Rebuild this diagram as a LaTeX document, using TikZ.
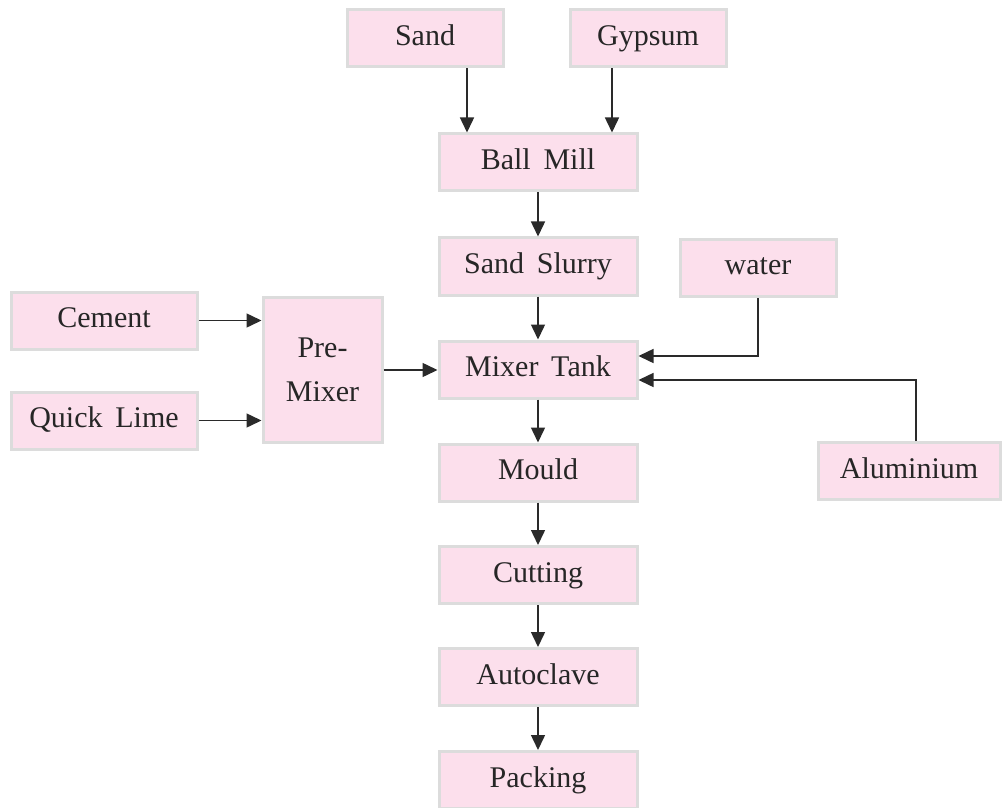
\documentclass[tikz,border=0pt]{standalone}
\usepackage{fontspec}
\setmainfont{Liberation Serif}[WordSpace=1.7]
\usepackage{tikz}
\usetikzlibrary{arrows.meta}
\definecolor{boxpink}{HTML}{FCDFEC}
\definecolor{boxline}{HTML}{DCDCDC}
\definecolor{arrline}{HTML}{2A2A2A}
\tikzset{
    stage/.style={draw=boxline, line width=1.5pt, fill=boxpink, text=black!85, minimum height=28.5pt, text height=10.5pt, text depth=3.5pt, inner sep=2pt}, % process box
    arr/.style={draw=arrline, line width=0.75pt, -{Triangle[length=7.5pt, width=7pt]}} % connector
}

\begin{document}
\begin{tikzpicture}[x=0.5pt, y=-0.5pt, font=\fontsize{15}{18}\selectfont]
            \useasboundingbox (0,0) rectangle (1004,807);

            \node[stage, minimum width=78pt] (sand) at (425,38.5) {Sand};
            \node[stage, minimum width=78pt] (gypsum) at (648,38.5) {Gypsum};
            \node[stage, minimum width=99pt] (ballmill) at (538,162.5) {Ball Mill};
            \node[stage, minimum width=99pt] (slurry) at (538,266.5) {Sand Slurry};
            \node[stage, minimum width=78pt] (water) at (758,268) {water};
            \node[stage, minimum width=93pt] (cement) at (104,320.5) {Cement};
            \node[stage, minimum width=93pt] (lime) at (104,420.5) {Quick Lime};
            \node[stage, minimum width=59.5pt, minimum height=72.5pt, text height=, text depth=, align=center] (premixer) at (322.5,370) {Pre-\\[4pt]Mixer};
            \node[stage, minimum width=99pt] (mixer) at (538,369.5) {Mixer Tank};
            \node[stage, minimum width=91pt] (aluminium) at (909,471) {Aluminium};
            \node[stage, minimum width=99pt] (mould) at (538,472.5) {Mould};
            \node[stage, minimum width=99pt] (cutting) at (538,575) {Cutting};
            \node[stage, minimum width=99pt] (autoclave) at (538,677) {Autoclave};
            \node[stage, minimum width=99pt] (packing) at (538,780) {Packing};

            \draw[arr] ([xshift=21pt]sand.south) -- ([xshift=21pt]sand.south |- ballmill.north);
            \draw[arr] ([xshift=-18pt]gypsum.south) -- ([xshift=-18pt]gypsum.south |- ballmill.north);
            \foreach \a/\b in {ballmill/slurry, slurry/mixer, mixer/mould, mould/cutting, cutting/autoclave, autoclave/packing} {\draw[arr] (\a) -- (\b);}

            \draw[arr] (cement.east) -- (cement.east -| premixer.west);
            \draw[arr] (lime.east) -- (lime.east -| premixer.west);
            \draw[arr] (premixer.east) -- (premixer.east -| mixer.west);

            \draw[arr] (water.south) |- ([yshift=6.75pt]mixer.east);
            \draw[arr] ([xshift=3.5pt]aluminium.north) |- ([yshift=-5.25pt]mixer.east);
        \end{tikzpicture}
\end{document}
